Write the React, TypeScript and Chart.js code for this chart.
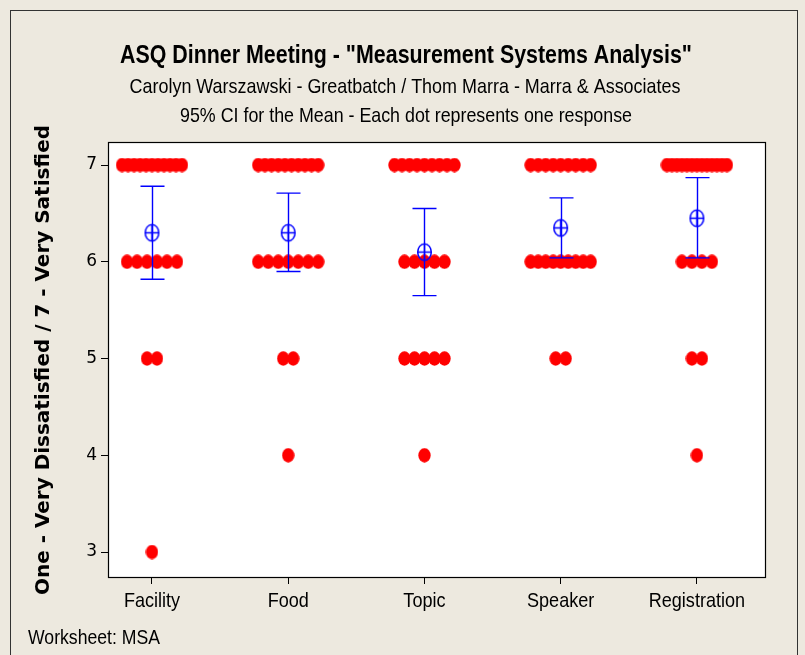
import { useEffect, useRef } from 'react';
import { Chart, registerables } from 'chart.js';

Chart.register(...registerables);

// ---------- data ----------
const categories = ['Facility', 'Food', 'Topic', 'Speaker', 'Registration'];
const responseLevels = [7, 6, 5, 4, 3];
// number of responses at each level (7, 6, 5, 4, 3)
const facilityCounts = [11, 6, 2, 0, 1];
const foodCounts = [10, 7, 2, 1, 0];
const topicCounts = [9, 5, 5, 1, 0];
const speakerCounts = [9, 9, 2, 0, 0];
const registrationCounts = [13, 4, 2, 1, 0];
// mean and 95% CI per category
const means = [6.3, 6.3, 6.1, 6.35, 6.45];
const ciLower = [5.82, 5.9, 5.65, 6.04, 6.04];
const ciUpper = [6.78, 6.71, 6.55, 6.66, 6.87];
const yTickValues = [3, 4, 5, 6, 7];

const titleText = 'ASQ Dinner Meeting - "Measurement Systems Analysis"';
const subtitleLine1 = 'Carolyn Warszawski - Greatbatch / Thom Marra - Marra & Associates';
const subtitleLine2 = '95% CI for the Mean - Each dot represents one response';
const yAxisTitle = 'One - Very Dissatisfied / 7 - Very Satisfied';
const footnote = 'Worksheet: MSA';

// ---------- layout / style ----------
const BG = '#EDE9DF';
const RED = '#FF0000';
const BLUE = '#0000FF';
const PX_PER_UNIT = 136.25; // x-scale pixels per category step
const DOT_STEP_PX = 10;
const MAX_HALF_PX = 30;
const NARROW = 0.86;

function makeDot(): HTMLCanvasElement {
  const c = document.createElement('canvas');
  c.width = 13;
  c.height = 15;
  const g = c.getContext('2d')!;
  g.fillStyle = RED;
  g.beginPath();
  g.ellipse(6.5, 7.5, 6.2, 7.2, 0, 0, Math.PI * 2);
  g.fill();
  return c;
}

function makeMeanMarker(): HTMLCanvasElement {
  const c = document.createElement('canvas');
  c.width = 17;
  c.height = 21;
  const g = c.getContext('2d')!;
  g.strokeStyle = BLUE;
  g.lineWidth = 1.5;
  g.beginPath();
  g.ellipse(8.5, 10.5, 6.8, 8.3, 0, 0, Math.PI * 2);
  g.stroke();
  g.beginPath();
  g.moveTo(1.7, 10.5);
  g.lineTo(15.3, 10.5);
  g.moveTo(8.5, 2);
  g.lineTo(8.5, 19);
  g.stroke();
  return c;
}

function buildDots() {
  const all = [facilityCounts, foodCounts, topicCounts, speakerCounts, registrationCounts];
  const pts: { x: number; y: number }[] = [];
  all.forEach((counts, ci) => {
    counts.forEach((n, li) => {
      if (!n) return;
      const half = Math.min(MAX_HALF_PX, ((n - 1) * DOT_STEP_PX) / 2);
      for (let k = 0; k < n; k++) {
        const off = n === 1 ? 0 : -half + (2 * half * k) / (n - 1);
        pts.push({ x: ci + 1 + off / PX_PER_UNIT, y: responseLevels[li] });
      }
    });
  });
  return pts;
}

function fitText(
  ctx: CanvasRenderingContext2D,
  text: string,
  x: number,
  y: number,
  font: string,
  width: number,
  align: CanvasTextAlign
) {
  ctx.save();
  ctx.font = font;
  const w = ctx.measureText(text).width;
  ctx.translate(x, y);
  ctx.scale(width / w, 1);
  ctx.textAlign = align;
  ctx.textBaseline = 'alphabetic';
  ctx.fillStyle = '#000';
  ctx.fillText(text, 0, 0);
  ctx.restore();
}

function narrowText(ctx: CanvasRenderingContext2D, text: string, x: number, y: number, font: string) {
  ctx.save();
  ctx.font = font;
  ctx.translate(x, y);
  ctx.scale(NARROW, 1);
  ctx.textAlign = 'center';
  ctx.textBaseline = 'alphabetic';
  ctx.fillStyle = '#000';
  ctx.fillText(text, 0, 0);
  ctx.restore();
}

const decorPlugin = {
  id: 'decor',
  beforeDraw(chart: any) {
    const { ctx, chartArea: a } = chart;
    ctx.save();
    ctx.fillStyle = BG;
    ctx.fillRect(0, 0, chart.width, chart.height);
    ctx.fillStyle = '#FFFFFF';
    ctx.fillRect(a.left, a.top, a.right - a.left, a.bottom - a.top);
    ctx.restore();
  },
  afterDatasetsDraw(chart: any) {
    const { ctx } = chart;
    const xs = chart.scales.x;
    const ys = chart.scales.y;
    ctx.save();
    ctx.strokeStyle = BLUE;
    ctx.lineWidth = 1.4;
    for (let i = 0; i < categories.length; i++) {
      const x = Math.round(xs.getPixelForValue(i + 1)) + 0.5;
      const yl = ys.getPixelForValue(ciLower[i]);
      const yu = ys.getPixelForValue(ciUpper[i]);
      ctx.beginPath();
      ctx.moveTo(x, yu);
      ctx.lineTo(x, yl);
      ctx.moveTo(x - 12, yu);
      ctx.lineTo(x + 12, yu);
      ctx.moveTo(x - 12, yl);
      ctx.lineTo(x + 12, yl);
      ctx.stroke();
    }
    ctx.restore();
  },
  afterDraw(chart: any) {
    const { ctx, chartArea: a } = chart;
    const xs = chart.scales.x;
    ctx.save();
    // plot frame
    ctx.strokeStyle = '#000';
    ctx.lineWidth = 1.2;
    ctx.strokeRect(a.left + 0.5, a.top + 0.5, a.right - a.left, a.bottom - a.top);
    // outer border
    ctx.strokeStyle = '#333';
    ctx.lineWidth = 1;
    ctx.strokeRect(10.5, 10.5, 787, 660);
    ctx.restore();

    // category labels (condensed)
    categories.forEach((c, i) => {
      narrowText(ctx, c, xs.getPixelForValue(i + 1), a.bottom + 30, '21px "Liberation Sans", Arial, sans-serif');
    });

    fitText(ctx, titleText, 406, 63, 'bold 25px "Liberation Sans", Arial, sans-serif', 572, 'center');
    fitText(ctx, subtitleLine1, 405, 93, '21px "Liberation Sans", Arial, sans-serif', 551, 'center');
    fitText(ctx, subtitleLine2, 406, 122, '21px "Liberation Sans", Arial, sans-serif', 452, 'center');
    fitText(ctx, footnote, 28, 644, '21px "Liberation Sans", Arial, sans-serif', 132, 'left');

    // rotated y-axis title
    ctx.save();
    ctx.font = 'bold 19px "DejaVu Sans", sans-serif';
    const w = ctx.measureText(yAxisTitle).width;
    ctx.translate(49, 360);
    ctx.rotate(-Math.PI / 2);
    ctx.scale(470 / w, 1);
    ctx.textAlign = 'center';
    ctx.textBaseline = 'alphabetic';
    ctx.fillStyle = '#000';
    ctx.fillText(yAxisTitle, 0, 0);
    ctx.restore();
  },
};

export default function App() {
  const ref = useRef<HTMLCanvasElement | null>(null);

  useEffect(() => {
    document.body.style.margin = '0';
    const canvas = ref.current!;
    const dotImg = makeDot();
    const meanImg = makeMeanMarker();

    const chart = new Chart(canvas, {
      type: 'scatter',
      data: {
        datasets: [
          {
            label: 'Means',
            data: means.map((m, i) => ({ x: i + 1, y: m })),
            pointStyle: meanImg as any,
            order: 0,
          },
          {
            label: 'Responses',
            data: buildDots(),
            pointStyle: dotImg as any,
            order: 1,
          },
        ],
      },
      options: {
        animation: false,
        responsive: false,
        devicePixelRatio: 1,
        layout: { padding: { top: 142, right: 40, left: 0, bottom: 0 } },
        plugins: {
          legend: { display: false },
          tooltip: { enabled: false },
          title: { display: false },
        },
        scales: {
          x: {
            type: 'linear',
            min: 0.677,
            max: 5.5,
            afterBuildTicks: (s: any) => {
              s.ticks = categories.map((_, i) => ({ value: i + 1 }));
            },
            afterFit: (s: any) => {
              s.height = 78;
            },
            grid: { drawOnChartArea: false, drawTicks: true, tickLength: 7, color: '#000' },
            border: { display: true, color: '#000', width: 1 },
            ticks: {
              display: false,
              autoSkip: false,
              maxRotation: 0,
            },
          },
          y: {
            type: 'linear',
            min: 2.742,
            max: 7.238,
            afterBuildTicks: (s: any) => {
              s.ticks = yTickValues.map((v) => ({ value: v }));
            },
            afterFit: (s: any) => {
              s.width = 108;
            },
            grid: { drawOnChartArea: false, drawTicks: true, tickLength: 7, color: '#000' },
            border: { display: true, color: '#000', width: 1 },
            ticks: {
              padding: 4,
              color: '#000',
              font: { family: '"DejaVu Sans", sans-serif', size: 17 },
              callback: (v: any) => String(v),
            },
          },
        },
      },
      plugins: [decorPlugin],
    });
    return () => chart.destroy();
  }, []);

  return <canvas ref={ref} width={805} height={655} style={{ display: 'block', width: 805, height: 655 }} />;
}
